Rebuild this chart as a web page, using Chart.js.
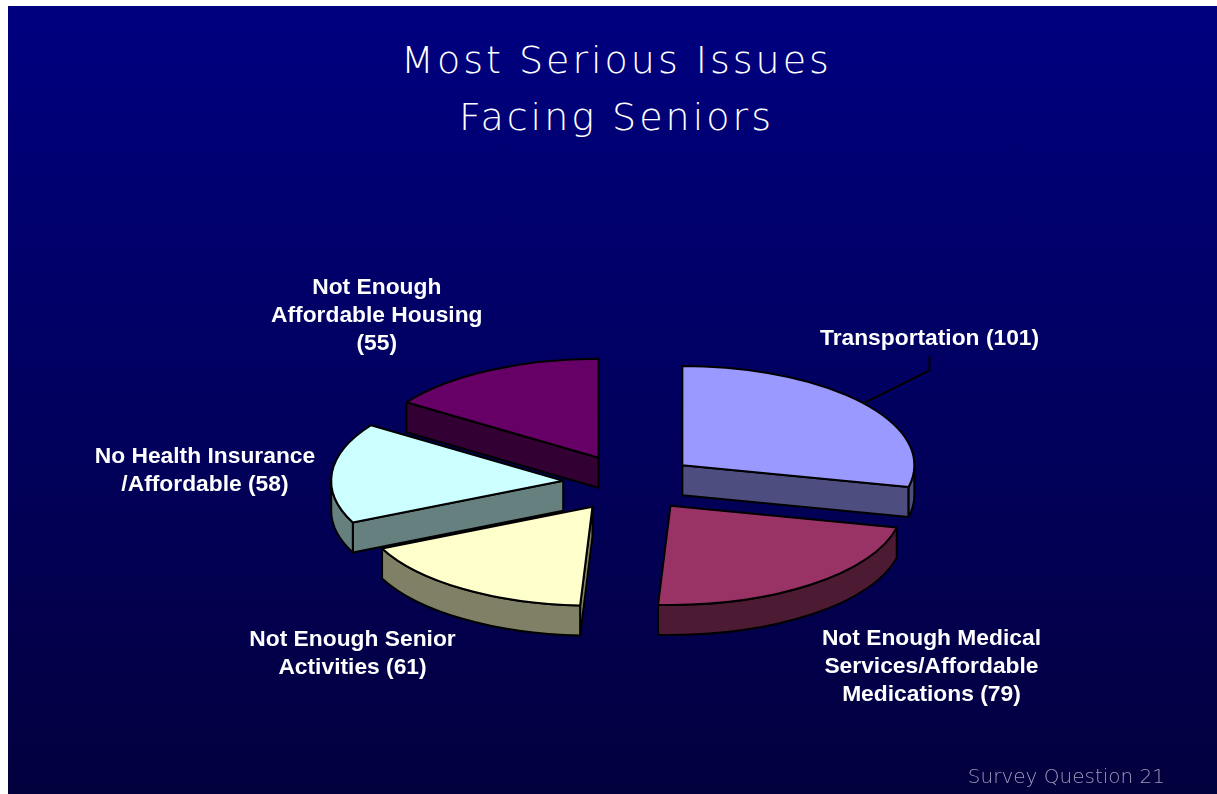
<!DOCTYPE html>
<html>
<head>
<meta charset="utf-8">
<title>Most Serious Issues Facing Seniors</title>
<script src="https://cdn.jsdelivr.net/npm/chart.js@4.4.0/dist/chart.umd.min.js"></script>
<style>
  html, body { margin: 0; padding: 0; background: #fff; }
  #slide {
    position: absolute; left: 8px; top: 6px; width: 1209px; height: 788px;
    background: linear-gradient(to bottom, #000080 0%, #03003e 100%);
    overflow: hidden;
  }
  #title {
    position: absolute; left: 0; top: 26px; width: 1217px;
    text-align: center; color: #fff;
    font-family: 'DejaVu Sans', sans-serif; font-weight: 200;
    font-size: 38px; line-height: 57px; letter-spacing: 3px;
  }
  #note {
    position: absolute; right: 52px; top: 758px;
    color: #9a9ab8; font-family: 'DejaVu Sans', sans-serif; font-weight: 200;
    font-size: 20px; line-height: 24px;
  }
  #pie { position: absolute; left: 0; top: 0; }
</style>
</head>
<body>
<div id="slide">
  <div id="title">Most Serious Issues<br>Facing Seniors</div>
  <canvas id="pie" width="1209" height="788"></canvas>
  <div id="note">Survey Question 21</div>
</div>
<script>
// Survey answers: label lines per issue, value gets appended to the last line
const issues = [
  ['Transportation'],
  ['Not Enough Medical', 'Services/Affordable', 'Medications'],
  ['Not Enough Senior', 'Activities'],
  ['No Health Insurance', '/Affordable'],
  ['Not Enough', 'Affordable Housing', '']
];
const responses = [101, 79, 61, 58, 55];

const topColors = ['#9999FF', '#993366', '#FFFFCC', '#CCFFFF', '#660066'];
const sideColors = ['#4D4D80', '#4D1A33', '#808066', '#668080', '#330033'];

function labelLines(i) {
  const lines = issues[i].slice();
  const last = lines.pop();
  lines.push((last ? last + ' ' : '') + '(' + responses[i] + ')');
  return lines;
}

// geometry of one slice on the tilted plane (exploded centre + rim helper)
function sliceGeom(arc, o) {
  const mid = (arc.startAngle + arc.endAngle) / 2;
  const cx = arc.x + o.explode * Math.cos(mid);
  const cy = arc.y + o.explode * o.tilt * Math.sin(mid);
  const pt = (a, dy) => [cx + arc.outerRadius * Math.cos(a),
                         cy + o.tilt * arc.outerRadius * Math.sin(a) + (dy || 0)];
  return { mid, cx, cy, pt };
}

const pie3d = {
  id: 'pie3d',
  beforeDatasetsDraw(chart, args, o) {
    const ctx = chart.ctx;
    const arcs = chart.getDatasetMeta(0).data;
    const slices = arcs.map((arc, i) => Object.assign({ arc, i }, sliceGeom(arc, o)));

    ctx.save();
    ctx.lineWidth = o.lineWidth;
    ctx.strokeStyle = '#000';
    ctx.lineJoin = 'round';

    // extruded sides, back slices first
    slices.slice().sort((a, b) => a.cy - b.cy).forEach(s => {
      const { startAngle: a0, endAngle: a1, outerRadius: r } = s.arc;
      ctx.fillStyle = sideColors[s.i];
      const cuts = [];
      if (Math.cos(a0) < -1e-6) cuts.push(a0);
      if (Math.cos(a1) > 1e-6) cuts.push(a1);
      cuts.forEach(a => {
        ctx.beginPath();
        ctx.moveTo(s.cx, s.cy);
        ctx.lineTo(...s.pt(a));
        ctx.lineTo(...s.pt(a, o.depth));
        ctx.lineTo(s.cx, s.cy + o.depth);
        ctx.closePath();
        ctx.fill();
        ctx.stroke();
      });
      const c0 = Math.max(a0, 0), c1 = Math.min(a1, Math.PI);
      if (c1 > c0) {
        ctx.beginPath();
        ctx.ellipse(s.cx, s.cy, r, r * o.tilt, 0, c0, c1);
        ctx.ellipse(s.cx, s.cy + o.depth, r, r * o.tilt, 0, c1, c0, true);
        ctx.closePath();
        ctx.fill();
        ctx.stroke();
      }
    });

    // top faces: the arc elements squashed onto the tilted plane
    slices.forEach(s => {
      const { startAngle: a0, endAngle: a1, outerRadius: r } = s.arc;
      ctx.save();
      ctx.translate(s.cx, s.cy);
      ctx.scale(1, o.tilt);
      ctx.translate(-s.arc.x, -s.arc.y);
      s.arc.draw(ctx);
      ctx.restore();
      ctx.beginPath();
      ctx.moveTo(s.cx, s.cy);
      ctx.ellipse(s.cx, s.cy, r, r * o.tilt, 0, a0, a1);
      ctx.closePath();
      ctx.stroke();
    });
    ctx.restore();
    return false;
  },
  afterDraw(chart, args, o) {
    const ctx = chart.ctx;
    const arcs = chart.getDatasetMeta(0).data;
    ctx.save();
    ctx.font = o.font;
    ctx.fillStyle = '#fff';
    ctx.textAlign = 'center';
    ctx.textBaseline = 'middle';
    arcs.forEach((arc, i) => {
      const g = sliceGeom(arc, o);
      const rim = g.pt(g.mid);
      const lx = rim[0] + o.labelShift[i][0];
      const ly = rim[1] + o.labelShift[i][1];
      const lines = labelLines(i);
      lines.forEach((t, j) => ctx.fillText(t, lx, ly + (j - (lines.length - 1) / 2) * o.lineHeight));
      if (i === o.leader) {
        ctx.beginPath();
        ctx.moveTo(rim[0], rim[1]);
        ctx.lineTo(lx, ly + 32);
        ctx.lineTo(lx, ly + 18);
        ctx.strokeStyle = '#000';
        ctx.lineWidth = 2;
        ctx.stroke();
      }
    });
    ctx.restore();
  }
};

new Chart(document.getElementById('pie'), {
  type: 'pie',
  data: {
    labels: issues.map(l => l.join(' ')),
    datasets: [{
      data: responses,
      backgroundColor: topColors,
      borderWidth: 0
    }]
  },
  options: {
    responsive: false, animation: false, events: [],
    radius: 232,
    layout: { padding: { left: 35, right: 0, top: 166, bottom: 0 } },
    plugins: {
      legend: { display: false },
      tooltip: { enabled: false },
      pie3d: {
        tilt: 0.427, depth: 30, explode: 67, lineWidth: 2,
        font: 'bold 22.8px "Liberation Sans", Arial, sans-serif', lineHeight: 28,
        labelShift: [[66, -65], [121, 82], [-110, 65], [-127, -2], [-113, -55]],
        leader: 0
      }
    }
  },
  plugins: [pie3d]
});
</script>
</body>
</html>
